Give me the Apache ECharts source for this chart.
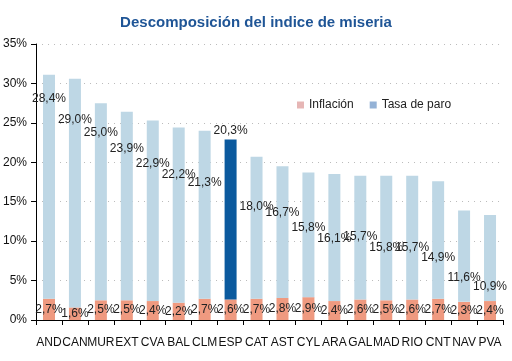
<!DOCTYPE html>
<html>
<head>
<meta charset="utf-8">
<script src="https://cdn.jsdelivr.net/npm/echarts@6/dist/echarts.min.js"></script>
<style>html,body{margin:0;padding:0;background:#fff}#c{width:512px;height:361px}</style>
</head>
<body>
<div id="c"></div>
<script>
// ---- data ----
const categories = ['AND','CAN','MUR','EXT','CVA','BAL','CLM','ESP','CAT','AST','CYL','ARA','GAL','MAD','RIO','CNT','NAV','PVA'];
const inflacion = [2.7,1.6,2.5,2.5,2.4,2.2,2.7,2.6,2.7,2.8,2.9,2.4,2.6,2.5,2.6,2.7,2.3,2.4];
const tasaParo = [28.4,29.0,25.0,23.9,22.9,22.2,21.3,20.3,18.0,16.7,15.8,16.1,15.7,15.8,15.7,14.9,11.6,10.9];
const yTicks = [0,5,10,15,20,25,30,35];
const highlight = 'ESP';

// ---- styling (label placement as in the reference, px below bar top) ----
const paroLabelDrop = [24,41,30,37,43,47,52,-9,50,46,55,65,61,72,72,76,67,72];

const FONT = 'Liberation Sans, Arial, sans-serif';
const fmt = v => v.toFixed(1).replace('.', ',') + '%';

const chart = echarts.init(document.getElementById('c'), null, {renderer: 'canvas'});
chart.setOption({
  animation: false,
  title: {
    text: 'Descomposición del indice de miseria',
    left: 'center', top: 10,
    textStyle: {fontFamily: FONT, fontSize: 15, fontWeight: 'bold', color: '#1f5596'}
  },
  legend: {
    left: 292, top: 94,
    itemWidth: 7, itemHeight: 7, itemGap: 16,
    icon: 'rect',
    textStyle: {fontFamily: FONT, fontSize: 12, color: '#222'},
    data: [
      {name: 'Inflación', itemStyle: {color: '#e6b6b5'}},
      {name: 'Tasa de paro', itemStyle: {color: '#94b2d6'}}
    ]
  },
  grid: {left: 35, right: 9, top: 44, bottom: 41},
  xAxis: {
    type: 'category', data: categories,
    axisLine: {lineStyle: {color: '#000', width: 1}},
    axisTick: {show: true, length: 5, lineStyle: {color: '#000'}},
    axisLabel: {interval: 0, margin: 17, fontFamily: FONT, fontSize: 12, color: '#111'}
  },
  yAxis: {
    type: 'value', min: yTicks[0], max: yTicks[yTicks.length - 1], interval: yTicks[1] - yTicks[0],
    axisLine: {show: true, lineStyle: {color: '#000', width: 1}},
    axisTick: {show: true, length: 5, lineStyle: {color: '#000'}},
    axisLabel: {formatter: '{value}%', margin: 9, fontFamily: FONT, fontSize: 12, color: '#111'},
    splitLine: {show: true, lineStyle: {color: '#bbb', type: [1, 5], width: 1}}
  },
  series: [
    {
      name: 'Inflación', type: 'bar', stack: 'total', barWidth: 12,
      itemStyle: {color: '#ef9a80'},
      label: {show: true, position: 'inside', formatter: p => fmt(p.value),
        fontFamily: FONT, fontSize: 12, color: '#222'},
      data: inflacion
    },
    {
      name: 'Tasa de paro', type: 'bar', stack: 'total', barWidth: 12,
      itemStyle: {color: '#bed7e5'},
      label: {show: true, position: 'insideTop', distance: 0, lineHeight: 14,
        formatter: p => fmt(p.value), fontFamily: FONT, fontSize: 12, color: '#222'},
      data: tasaParo.map((v, i) => {
        const d = {value: v, label: {offset: [0, paroLabelDrop[i] - 7]}};
        if (categories[i] === highlight) d.itemStyle = {color: '#0b5a9e'};
        return d;
      })
    }
  ]
});
</script>
</body>
</html>
